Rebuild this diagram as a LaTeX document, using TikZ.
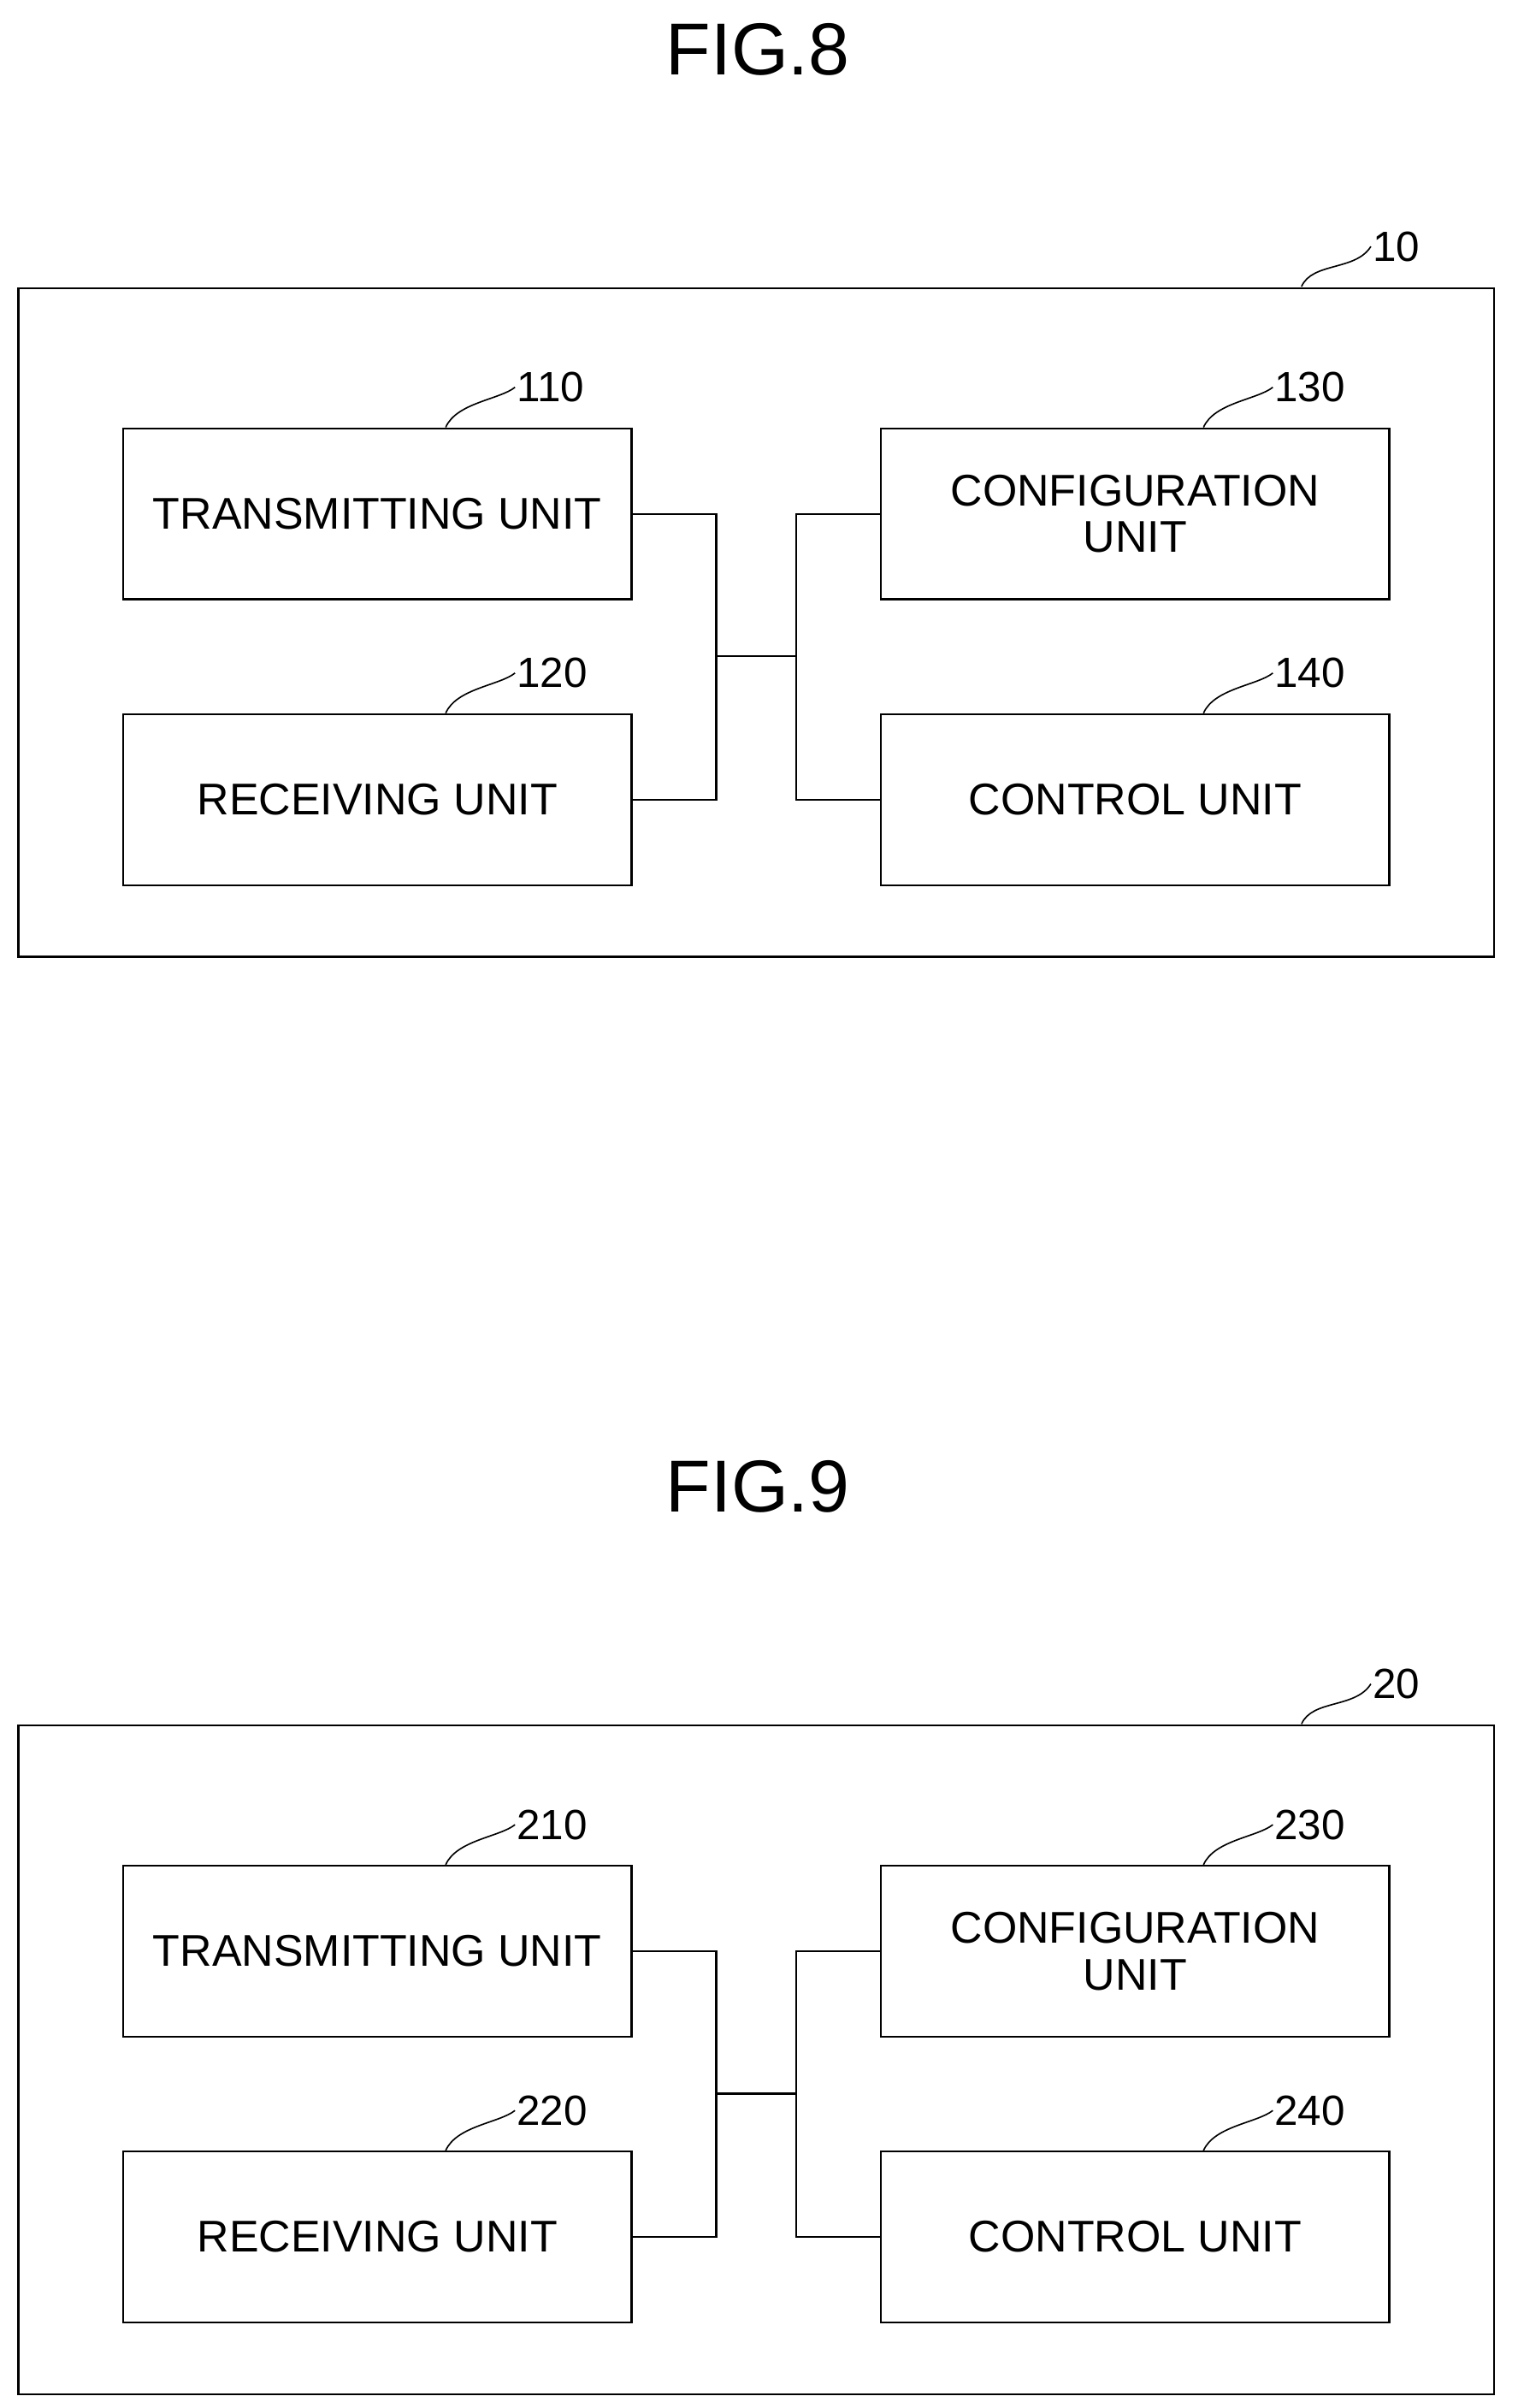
\documentclass[tikz,border=0pt]{standalone}
\usepackage{fontspec}
\setmainfont{Liberation Sans}
\begin{document}
\begin{tikzpicture}[x=0.05cm,y=-0.05cm,
  unit/.style={draw=black,line width=1.8pt,minimum width=16.5cm,minimum height=5.55cm,
    align=center,font=\fontsize{41}{46}\selectfont},
  frame/.style={draw=black,line width=1.8pt},
  wire/.style={draw=black,line width=1.8pt},
  leader/.style={draw=black,line width=1.3pt},
  refnum/.style={anchor=west,inner sep=1pt,font=\fontsize{39}{44}\selectfont},
  figtitle/.style={font=\fontsize{68}{80}\selectfont}
]
  \useasboundingbox (0,0) rectangle (985,1563);
  \foreach \fig/\dy/\n in {8/0/1,9/933/2}{
    \begin{scope}[yshift=-\dy*0.05cm]
      \node[figtitle] (title\fig) at (492,32) {FIG.\fig};
      \draw[frame] (12,187) rectangle (970,621);
      \node[unit] (tx\fig) at (245,333.5) {TRANSMITTING UNIT};
      \node[unit] (rx\fig) at (245,519) {RECEIVING UNIT};
      \node[unit] (cfg\fig) at (737,333.5) {CONFIGURATION\\[-0.1cm]UNIT};
      \node[unit] (ctl\fig) at (737,519) {CONTROL UNIT};
      \coordinate (jl\fig) at (465,426);
      \coordinate (jr\fig) at (517,426);
      \draw[wire] (tx\fig.east) -| (jl\fig) |- (rx\fig.east);
      \draw[wire] (jl\fig) -- (jr\fig);
      \draw[wire] (cfg\fig.west) -| (jr\fig) |- (ctl\fig.west);
      % reference numerals
      \draw[leader] (845,186) .. controls (852,170) and (880,176) .. (890,160)
        node[refnum] (num\fig) {\n0};
      \foreach \b/\k in {tx/1,rx/2,cfg/3,ctl/4}{
        \draw[leader] ([xshift=10.5cm]\b\fig.north west) .. controls +(7,-16) and +(-10,8) .. +(45,-26)
          node[refnum] (num\b\fig) {\n\k0};
      }
    \end{scope}
  }
\end{tikzpicture}
\end{document}
